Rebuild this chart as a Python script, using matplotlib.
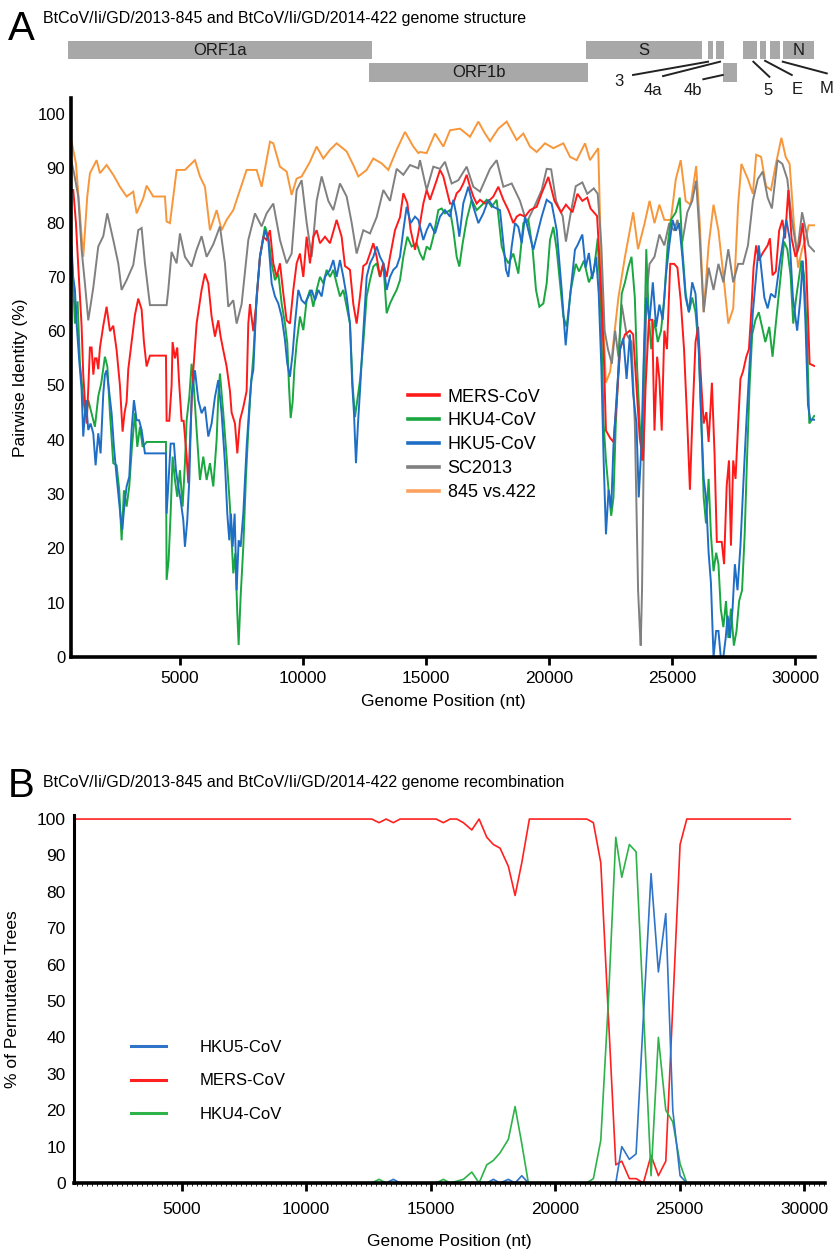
import matplotlib
matplotlib.use("Agg")
import matplotlib.pyplot as plt
from matplotlib.lines import Line2D
from matplotlib.ticker import MultipleLocator

plt.rcParams['font.family'] = ['Liberation Sans', 'DejaVu Sans']

# ---- genome structure (nt) ----
gene_names = ["ORF1a", "ORF1b", "S", "3", "4a", "4b", "5", "E", "M", "N"]
gene_start = [447, 12683, 21504, 26463, 26789, 27073, 27886, 28577, 28984, 29512]
gene_end = [12805, 21585, 26220, 26667, 27114, 27642, 28455, 28821, 29390, 30772]
gene_row = [0, 1, 0, 0, 0, 1, 0, 0, 0, 0]

# ---- panel A: pairwise identity (%) along the genome ----
mers_a = [(596, 86), (664, 86), (772, 80), (867, 72), (1003, 61), (1070, 52), (1140, 47), (1210, 43),
          (1280, 50), (1340, 57), (1409, 57), (1480, 52), (1545, 55), (1613, 55), (1680, 53), (1750, 57),
          (1883, 61), (2019, 64.5), (2155, 60), (2290, 61), (2426, 56.5), (2561, 50), (2669, 41.5),
          (2750, 45), (2832, 47), (2900, 53), (3035, 58), (3171, 63), (3306, 66), (3442, 64), (3537, 58),
          (3645, 53.5), (3780, 55.5), (4431, 55.5), (4458, 43.5), (4566, 43.5), (4661, 50), (4700, 58),
          (4797, 55), (4890, 57), (4960, 51), (5068, 43.5), (5150, 43.5), (5271, 37), (5339, 32),
          (5400, 38.7), (5515, 51), (5677, 61.4), (5880, 67.6), (6016, 70.6), (6152, 68.8), (6287, 62.7),
          (6423, 59), (6558, 62), (6653, 59), (6761, 56.5), (6897, 53.5), (7032, 49), (7100, 45),
          (7236, 43), (7331, 37.5), (7439, 43.6), (7575, 46), (7710, 49), (7778, 61.4), (7845, 65),
          (7981, 60), (8117, 65.7), (8252, 73.7), (8388, 77.4), (8523, 76.8), (8659, 78.6), (8794, 72.5),
          (8930, 70), (9065, 72.5), (9200, 67), (9336, 62), (9471, 61.4), (9607, 67.6), (9743, 72.5),
          (9878, 74.3), (10014, 70), (10149, 77.4), (10285, 72.5), (10420, 77.4), (10556, 78.6),
          (10691, 76.2), (10894, 77.4), (11098, 76.2), (11368, 80.5), (11571, 77.4), (11707, 72),
          (11910, 71.3), (12046, 65), (12181, 61.4), (12317, 66.4), (12452, 72), (12588, 72.5),
          (12724, 74.3), (12859, 76.2), (12995, 73.7), (13130, 70), (13266, 72.5), (13401, 70),
          (13537, 73.7), (13740, 78.6), (13943, 81), (14079, 85.4), (14241, 83.6), (14377, 78.6),
          (14553, 75), (14688, 78), (14891, 83.5), (15027, 86), (15162, 84.2), (15298, 86), (15434, 87.8),
          (15569, 89.7), (15705, 88.5), (15840, 86), (15976, 83.5), (16111, 83.5), (16247, 85.4),
          (16382, 86), (16518, 87.2), (16653, 88.8), (16789, 86.6), (16924, 84.8), (17060, 83.5),
          (17195, 84.2), (17398, 83.5), (17602, 84.2), (17737, 84.8), (17940, 86.6), (18144, 84.2),
          (18347, 82.3), (18550, 79.9), (18686, 81.1), (18821, 81.5), (19024, 81.1), (19227, 82.3),
          (19498, 82.9), (19702, 85.4), (19973, 88.4), (20221, 84), (20487, 81.9), (20687, 83.3),
          (20954, 81.9), (21154, 85.3), (21354, 84), (21554, 84.6), (21687, 82.6), (21954, 81.2),
          (22087, 70.3), (22220, 56.7), (22314, 41.7), (22487, 40.3), (22620, 39.6), (22754, 47.1),
          (22887, 56.7), (23087, 59.4), (23287, 60.1), (23420, 59.4), (23554, 49.9), (23687, 40.3),
          (23820, 36.2), (23926, 49.9), (24060, 62.1), (24193, 62.1), (24286, 41.7), (24393, 55.3),
          (24486, 51.2), (24580, 41.7), (24686, 60.1), (24793, 56.7), (24926, 72.4), (25086, 72.4),
          (25219, 71.7), (25353, 65.6), (25487, 56.7), (25620, 43), (25726, 30.8), (25820, 43),
          (25954, 58), (26059, 60.8), (26193, 49.9), (26286, 43), (26393, 45.1), (26486, 39.6),
          (26620, 50.5), (26726, 37.6), (26820, 21.2), (27020, 21.2), (27114, 17.1), (27220, 31.5),
          (27314, 36.2), (27394, 20.5), (27486, 36.2), (27580, 32.8), (27686, 43), (27780, 51.2),
          (27886, 52.6), (28018, 55.3), (28125, 56.7), (28218, 63.5), (28312, 71.7), (28418, 75.8),
          (28525, 73), (28685, 74.4), (28885, 75.8), (28978, 77.1), (29085, 70.3), (29218, 71),
          (29352, 78.5), (29485, 80.5), (29592, 77.1), (29725, 86), (29858, 77.1), (30018, 73.7),
          (30178, 75.8), (30312, 79.9), (30445, 73), (30592, 54), (30778, 53.6)]

hku4_a = [(596, 73.7), (650, 70), (732, 61.4), (840, 65.5), (935, 54), (1003, 51), (1070, 47.3),
          (1179, 44.2), (1274, 47.3), (1409, 44.9), (1545, 42.4), (1680, 48), (1800, 50.4), (1951, 55.3),
          (2050, 53.5), (2155, 44.9), (2290, 35.7), (2426, 35.3), (2534, 30.7), (2629, 21.5), (2724, 30.7),
          (2832, 27.7), (2940, 31.4), (3049, 38.7), (3171, 44.9), (3266, 38.7), (3374, 42.4), (3483, 38.7),
          (3645, 39.6), (4431, 39.6), (4458, 14.2), (4539, 17.8), (4621, 26.4), (4702, 36.9), (4797, 32.6),
          (4892, 29.5), (5000, 34.4), (5109, 27.7), (5203, 35.7), (5271, 43.6), (5380, 47.9), (5474, 54),
          (5560, 50), (5677, 41.8), (5813, 32.6), (5948, 36.9), (6084, 32.6), (6220, 35.7), (6355, 31.4),
          (6491, 40), (6558, 47.9), (6626, 52.2), (6760, 45), (6897, 36.9), (7032, 27.7), (7168, 15.4),
          (7249, 19.1), (7331, 8), (7385, 2.2), (7466, 11.1), (7575, 20.3), (7683, 33.2), (7778, 41.8),
          (7873, 49.2), (7981, 55.3), (8117, 66.4), (8252, 73.7), (8455, 79.3), (8591, 77.4), (8727, 72.5),
          (8862, 69.4), (8998, 70.6), (9133, 65.1), (9268, 61.4), (9363, 57.8), (9430, 50), (9500, 44),
          (9580, 47), (9650, 53), (9743, 57.8), (9878, 62.7), (10014, 60.2), (10149, 65.7), (10285, 67.6),
          (10420, 64.5), (10556, 67.6), (10691, 70), (10827, 68.8), (10962, 71.3), (11098, 70),
          (11233, 71.3), (11368, 68.8), (11504, 66.4), (11640, 67.6), (11775, 64.5), (11910, 61.4),
          (12019, 50), (12114, 44.2), (12208, 47.3), (12320, 51), (12452, 57.8), (12588, 66.4),
          (12724, 69.4), (12859, 71.9), (12995, 72.5), (13130, 70), (13266, 72.5), (13401, 63.3),
          (13537, 65.1), (13672, 66.4), (13808, 67.6), (13943, 69.4), (14079, 73.7), (14241, 77.4),
          (14417, 75.6), (14621, 76.2), (14756, 74.3), (14891, 73.1), (15027, 75.6), (15162, 75),
          (15298, 77.4), (15501, 82.3), (15637, 82.6), (15772, 81.7), (15976, 82.3), (16111, 78.6),
          (16247, 73.7), (16355, 71.9), (16490, 76.2), (16653, 80.5), (16856, 84.2), (17060, 82.3),
          (17263, 83.2), (17466, 84.2), (17669, 82.9), (17873, 84.2), (18076, 75.6), (18211, 73.7),
          (18347, 72.5), (18550, 74.3), (18753, 70.6), (18957, 79.9), (19160, 80.5), (19336, 75),
          (19471, 67.6), (19607, 64.5), (19770, 65.1), (19905, 68.8), (20040, 76.8), (20176, 79.2),
          (20312, 75), (20447, 68.8), (20583, 62.7), (20718, 60.8), (20887, 67.6), (21087, 72.4),
          (21221, 71), (21420, 73), (21620, 69), (21820, 71), (21980, 77.1), (22113, 63.5), (22220, 43),
          (22314, 36.2), (22420, 30.8), (22527, 26), (22620, 29.4), (22714, 43), (22820, 53.3),
          (22954, 66.9), (23087, 69), (23220, 71.7), (23353, 73.7), (23487, 66.2), (23580, 53.3),
          (23687, 43), (23780, 36.2), (23860, 55.3), (23953, 75.1), (24046, 63.5), (24153, 56.7),
          (24286, 62.1), (24420, 58), (24553, 60.1), (24686, 66.2), (24820, 75.8), (24953, 80.5),
          (25153, 81.9), (25313, 84.6), (25420, 75.1), (25553, 66.9), (25686, 63.5), (25820, 66.2),
          (25954, 63.5), (26086, 56.7), (26193, 43), (26286, 29.4), (26380, 24.6), (26486, 32.8),
          (26580, 22.6), (26686, 15.8), (26793, 19.2), (26886, 17.1), (26980, 8.9), (27086, 5.5),
          (27193, 10.3), (27286, 3.5), (27394, 8.9), (27513, 2.1), (27620, 4.8), (27726, 10.3),
          (27846, 12.3), (27952, 22.6), (28045, 36.2), (28152, 49.9), (28258, 59.4), (28392, 62.1),
          (28525, 63.5), (28658, 60.8), (28791, 58), (28951, 60.8), (29085, 55.3), (29218, 61.4),
          (29418, 70.3), (29552, 76.5), (29685, 75.1), (29818, 70.3), (29925, 61.4), (30045, 66.2),
          (30152, 69.6), (30258, 73), (30365, 70.3), (30485, 59.4), (30578, 43), (30778, 44.4)]

hku5_a = [(596, 75.6), (660, 70), (732, 67.6), (800, 61.4), (900, 55), (1003, 49.2), (1070, 40.6),
          (1179, 47.3), (1274, 41.8), (1368, 43), (1477, 41.2), (1572, 35.3), (1680, 41.2), (1775, 37.5),
          (1884, 48.5), (1950, 52), (2019, 52.8), (2120, 49), (2222, 44.9), (2317, 38.7), (2426, 33.2),
          (2507, 29.5), (2588, 25.8), (2656, 23.4), (2737, 27.7), (2832, 31.4), (2940, 33.2), (3035, 41.8),
          (3130, 47.3), (3239, 43.6), (3340, 43.6), (3442, 41.8), (3578, 37.5), (4431, 37.5), (4458, 26.4),
          (4539, 32.6), (4621, 39.3), (4756, 39.3), (4837, 34.4), (4932, 31.4), (5027, 28.9), (5136, 25.2),
          (5203, 20.3), (5298, 25.2), (5380, 32.6), (5474, 47.9), (5610, 52.8), (5745, 47.3), (5880, 44.9),
          (6016, 46.1), (6152, 40.6), (6287, 43), (6423, 47.9), (6558, 51), (6694, 44.9), (6829, 35.7),
          (6924, 26.4), (7005, 21.5), (7073, 26.4), (7141, 20.3), (7222, 26.4), (7304, 12.3), (7385, 21.5),
          (7466, 20.3), (7575, 26.4), (7710, 38.7), (7819, 46.1), (7900, 51), (7981, 52.8), (8117, 66.4),
          (8252, 73.7), (8455, 78.6), (8591, 76.8), (8727, 68.8), (8862, 66.4), (8998, 65.1), (9133, 62.7),
          (9268, 58.4), (9363, 54), (9471, 51.6), (9580, 55.9), (9675, 61.4), (9810, 67.6), (9946, 65.7),
          (10082, 65.1), (10217, 66.4), (10353, 67.6), (10488, 65.7), (10624, 67.6), (10759, 66.4),
          (10894, 70), (11098, 71.3), (11233, 73.1), (11368, 70), (11504, 73.1), (11640, 70), (11775, 66.4),
          (11910, 61.4), (12000, 50.4), (12073, 44.9), (12154, 35.7), (12236, 43), (12320, 49.2),
          (12425, 57.8), (12588, 70), (12724, 72.5), (12859, 73.7), (12995, 75.6), (13130, 73.7),
          (13266, 72.5), (13401, 67.6), (13537, 70), (13672, 71.3), (13808, 71.9), (13943, 73.7),
          (14079, 78.6), (14214, 82.9), (14377, 79.9), (14553, 81.1), (14688, 80.5), (14891, 76.8),
          (15027, 78.6), (15162, 79.9), (15366, 78), (15569, 81.1), (15772, 82.3), (15976, 81.1),
          (16111, 84.2), (16247, 81.1), (16355, 77.4), (16518, 83.6), (16721, 86.6), (16924, 82.9),
          (17128, 79.9), (17330, 81.7), (17534, 84.2), (17737, 82.9), (18008, 82.3), (18144, 76.2),
          (18252, 71.3), (18347, 70), (18483, 75.6), (18618, 79.9), (18753, 79.2), (18889, 76.2),
          (19024, 81.1), (19160, 78.6), (19363, 75), (19498, 77.4), (19702, 81.1), (19905, 84.2),
          (20108, 83.5), (20312, 78.6), (20515, 67.6), (20677, 57.4), (20854, 66.4), (21054, 75),
          (21154, 75.8), (21354, 77.8), (21487, 71.7), (21620, 74.4), (21754, 69.6), (21914, 73.7),
          (22020, 66.9), (22127, 53.3), (22220, 36.2), (22314, 22.6), (22420, 30.8), (22527, 27.4),
          (22620, 38.9), (22754, 48.5), (22887, 56.7), (23020, 58.7), (23153, 51.2), (23287, 59.4),
          (23420, 48.5), (23554, 43), (23647, 29.4), (23754, 38.9), (23860, 56.7), (23953, 66.2),
          (24086, 62.1), (24220, 69), (24353, 60.8), (24486, 64.9), (24620, 62.1), (24753, 70.3),
          (24886, 75.8), (25020, 80.5), (25153, 78.5), (25286, 79.9), (25420, 73.7), (25553, 66.2),
          (25686, 63.5), (25820, 69), (25954, 66.9), (26086, 56.7), (26193, 43), (26286, 32.8),
          (26380, 29.4), (26486, 19.2), (26580, 13.7), (26686, 0), (26793, 4.8), (26886, 4.8), (26980, 0),
          (27086, 0), (27180, 3.5), (27260, 7.6), (27353, 3.5), (27460, 8.9), (27553, 17.1), (27660, 12.3),
          (27780, 20.5), (27886, 30.8), (28018, 43), (28152, 54), (28285, 63.5), (28418, 70.3),
          (28525, 75.8), (28620, 71.7), (28751, 66.2), (28885, 64.2), (29018, 66.9), (29192, 66.2),
          (29352, 71.7), (29485, 75.8), (29645, 80.5), (29778, 77.1), (29911, 66.2), (30085, 60.1),
          (30218, 66.2), (30312, 73), (30418, 62.1), (30525, 46.4), (30618, 43.7), (30778, 43.7)]

sc2013_a = [(596, 91.2), (700, 89), (867, 84.8), (1003, 75), (1138, 68.8), (1274, 62), (1477, 68),
            (1680, 75.6), (1884, 77.5), (2046, 81.7), (2290, 76.8), (2493, 72.5), (2629, 67.6), (2832, 69.4),
            (3103, 72.2), (3306, 78.6), (3442, 79), (3577, 72.5), (3781, 64.8), (4458, 64.8), (4526, 67.6),
            (4661, 74.6), (4865, 72.5), (5000, 78), (5203, 73.7), (5474, 71.9), (5677, 75), (5880, 77.5),
            (6084, 73.7), (6355, 76), (6626, 79.3), (6829, 72.5), (6965, 64.5), (7168, 65.7), (7304, 61.4),
            (7507, 65), (7778, 76.8), (8049, 81.7), (8320, 79.3), (8523, 81.7), (8794, 83.5), (9065, 76.8),
            (9336, 72.5), (9539, 74.3), (9743, 86), (9946, 87.8), (10149, 80), (10352, 73.7), (10556, 84),
            (10759, 88.5), (11030, 84), (11233, 82.3), (11504, 87.2), (11775, 84.8), (11978, 80),
            (12181, 74.3), (12452, 78.6), (12724, 78), (12995, 81), (13266, 86), (13537, 84), (13808, 89.9),
            (14079, 88.8), (14350, 90.6), (14688, 90), (14756, 91.5), (15027, 86), (15298, 90.3),
            (15569, 89.9), (15772, 91.2), (16043, 87.2), (16314, 87.8), (16653, 90.3), (16924, 86.6),
            (17195, 85.7), (17602, 89.9), (17873, 91.5), (18144, 86.6), (18483, 87.2), (18821, 84),
            (19092, 80), (19431, 83.2), (19702, 86), (19905, 89.9), (20087, 89.8), (20287, 84), (20554, 81.2),
            (20687, 76.5), (20887, 81.9), (21087, 86.7), (21354, 87.4), (21554, 85.3), (21820, 86.3),
            (21980, 85.3), (22127, 75.8), (22260, 60.1), (22394, 56.7), (22554, 54), (22687, 60.1),
            (22820, 55.3), (22954, 64.9), (23153, 59.4), (23353, 58), (23487, 43), (23620, 12.3),
            (23686, 5.5), (23726, 2.1), (23780, 12.3), (23846, 36.2), (23953, 66.2), (24086, 72.4),
            (24286, 73.7), (24486, 77.8), (24686, 75.8), (24886, 79.9), (25086, 78.5), (25219, 80.5),
            (25420, 76.5), (25620, 81.9), (25820, 84), (25980, 87.7), (26126, 77.1), (26286, 63.5),
            (26486, 71.7), (26686, 67.6), (26886, 72.4), (27086, 69), (27286, 75.1), (27486, 69),
            (27686, 72.4), (27886, 72.4), (28085, 75.8), (28285, 84), (28485, 88), (28685, 89.4),
            (28885, 84.6), (29058, 82.6), (29285, 91.5), (29485, 90.8), (29685, 88), (29885, 79.9),
            (30085, 74.4), (30285, 81.9), (30445, 78.5), (30551, 75.8), (30778, 74.7)]

v845_422_a = [(596, 94.9), (772, 90.9), (1070, 73.7), (1233, 84.8), (1342, 89.1), (1613, 91.5), (1748, 89.1),
              (2019, 90.6), (2290, 88.8), (2561, 86.6), (2832, 84.8), (3103, 85.7), (3239, 81.7), (3510, 84.5),
              (3645, 86.8), (3916, 84.8), (4390, 84.8), (4458, 80.2), (4594, 79.9), (4865, 89.7), (5203, 89.7),
              (5610, 91.5), (5813, 88.5), (6016, 86.6), (6220, 78.6), (6491, 82.3), (6694, 78.6), (6897, 80.5),
              (7168, 82.3), (7439, 86), (7710, 89.7), (8117, 89.7), (8320, 86.6), (8659, 94.9), (8794, 94.6),
              (9065, 90.3), (9336, 89.4), (9539, 85.1), (9743, 88.1), (9946, 88.5), (10285, 91.2),
              (10556, 94), (10827, 91.8), (11098, 93.4), (11368, 94.6), (11775, 93.1), (12046, 90.6),
              (12249, 88.5), (12588, 89.7), (12859, 91.8), (13198, 90.9), (13469, 89.7), (13808, 93.4),
              (14146, 96.7), (14485, 94), (14688, 92.8), (14756, 93), (15027, 92.8), (15366, 96.4),
              (15705, 94), (15976, 97), (16382, 97.3), (16789, 95.8), (17128, 98.6), (17398, 96.4),
              (17602, 95), (17940, 97.3), (18279, 98.6), (18686, 95.2), (18957, 96.4), (19227, 94),
              (19498, 93), (19837, 94.6), (20176, 93.7), (20583, 94.6), (20854, 92.1), (21125, 91.5),
              (21463, 94.6), (21666, 91.5), (22000, 93.7), (22150, 67.6), (22310, 50.5), (22487, 52.6),
              (22820, 66.2), (23087, 73.7), (23420, 81.9), (23620, 75.1), (23886, 79.9), (24086, 84),
              (24286, 79.9), (24486, 83.3), (24686, 80.5), (24953, 80.5), (25153, 88), (25353, 91.5),
              (25553, 84), (25753, 83.3), (25980, 90.4), (26126, 79.9), (26286, 63.5), (26486, 75.8),
              (26686, 83.3), (26886, 78.5), (27086, 70.3), (27286, 61.4), (27486, 64.2), (27686, 83.3),
              (27820, 90.8), (28085, 88), (28285, 85.3), (28420, 92.5), (28620, 92.1), (28820, 86.7),
              (29020, 86), (29220, 90.8), (29445, 95.6), (29618, 92.1), (29778, 90.8), (29952, 79.9),
              (30125, 71.7), (30285, 75.1), (30445, 77.1), (30551, 79.5), (30778, 79.5)]

# ---- panel B: % of permutated trees ----
mers_b = [(720, 100), (12638, 100), (12932, 99), (13213, 100), (13506, 99), (13775, 100), (15221, 100),
          (15514, 99), (15783, 100), (16052, 100), (16317, 99), (16655, 97), (16948, 100), (17257, 95),
          (17522, 93), (17791, 92), (18124, 87), (18394, 79), (18663, 88), (18968, 100), (21273, 100),
          (21538, 99), (21835, 88), (22438, 5), (22679, 6), (22984, 1.2), (23253, 1.2), (23546, 0),
          (23855, 7.6), (24149, 2), (24446, 6), (25020, 93), (25289, 100), (29440, 100)]
hku4_b = [(720, 0), (12638, 0), (12932, 1), (13213, 0), (15221, 0), (15514, 1), (15783, 0), (16052, 0.5),
          (16317, 1), (16655, 3), (16948, 0), (17257, 5), (17522, 6.2), (17791, 8.3), (18124, 12),
          (18394, 21), (18663, 10.8), (18928, 0), (21273, 0), (21538, 1.2), (21835, 11.7), (22141, 50),
          (22438, 95), (22679, 84), (22984, 93), (23253, 91), (23546, 48), (23855, 2), (24149, 40),
          (24446, 20), (24727, 16.8), (25020, 5.3), (25289, 0), (29440, 0)]
hku5_b = [(720, 0), (13213, 0), (13506, 1), (13775, 0), (17257, 0), (17522, 1), (17791, 0), (18124, 1),
          (18394, 0), (18663, 2), (18928, 0), (22438, 0), (22679, 10), (22984, 6.5), (23253, 8),
          (23855, 85), (24149, 58), (24446, 74), (24727, 20), (25020, 2), (25289, 0), (29440, 0)]

xticks = [5000, 10000, 15000, 20000, 25000, 30000]
yticks = list(range(0, 101, 10))

W, H = 839, 1249
fig = plt.figure(figsize=(W / 100, H / 100), dpi=100)


def box(left, top, right, bottom):
    return [left / W, 1 - bottom / H, (right - left) / W, (bottom - top) / H]


def xy(pairs):
    return [p[0] for p in pairs], [p[1] for p in pairs]


# ---------------- panel A ----------------
xlim_a = (560, 30810)
ax = fig.add_axes(box(70.7, 97.7, 815, 657))
c_red, c_green, c_blue, c_gray, c_orange = "#ff1a1a", "#1aa640", "#1f6ec6", "#808080", "#f8963a"
for data, col in [(v845_422_a, c_orange), (sc2013_a, c_gray), (hku4_a, c_green),
                  (mers_a, c_red), (hku5_a, c_blue)]:
    x, y = xy(data)
    ax.plot(x, y, color=col, lw=1.4, solid_joinstyle="miter")
ax.set_xlim(*xlim_a)
ax.set_ylim(0, 103)
ax.set_xticks(xticks)
ax.set_yticks(yticks)
for s in ["top", "right"]:
    ax.spines[s].set_visible(False)
ax.spines["left"].set_linewidth(2.6)
ax.spines["bottom"].set_linewidth(2.6)
ax.tick_params(axis="x", length=6, width=2, labelsize=12.5, pad=4)
ax.tick_params(axis="y", length=0, labelsize=12, pad=4)
ax.set_xlabel("Genome Position (nt)", fontsize=12.5, labelpad=6)
ax.set_ylabel("Pairwise Identity (%)", fontsize=12.5, labelpad=7)

handles = [Line2D([], [], color=c, lw=2.6) for c in [c_red, c_green, c_blue, c_gray, "#fba35e"]]
ax.legend(handles, ["MERS-CoV", "HKU4-CoV", "HKU5-CoV", "SC2013", "845 vs.422"],
          loc="upper left", bbox_to_anchor=(0.453, 0.48), frameon=False, fontsize=13,
          handlelength=1.75, handletextpad=0.45, labelspacing=0.38, borderaxespad=0, borderpad=0)

# genome structure above panel A
axg = fig.add_axes(box(70.7, 36, 815, 100))
axg.set_xlim(*xlim_a)
axg.set_ylim(2.622, -0.222)
axg.axis("off")
for name, s, e, r in zip(gene_names, gene_start, gene_end, gene_row):
    axg.broken_barh([(s, e - s)], (r, 0.8), facecolors="#a8a8a8", clip_on=False)
    if name in ("ORF1a", "ORF1b", "S", "N"):
        axg.text((s + e) / 2, r + 0.42, name, ha="center", va="center", fontsize=12, color="#1a1a1a")

leaders = {"3": [(23415, 1.51), (26463, 0.92), (22858, 1.81)],
           "4a": [(24634, 1.56), (26951, 0.92), (24215, 2.18)],
           "4b": [(26272, 1.70), (27061, 1.51), (25866, 2.18)],
           "5": [(28955, 1.59), (28305, 0.92), (28915, 2.18)],
           "E": [(29866, 1.51), (28781, 0.88), (30069, 2.15)],
           "M": [(31289, 1.44), (29500, 0.92), (31289, 2.10)]}
for name, (p0, p1, lab) in leaders.items():
    axg.plot([p0[0], p1[0]], [p0[1], p1[1]], color="#222222", lw=1.4, clip_on=False)
    axg.text(lab[0], lab[1], name, ha="center", va="center", fontsize=12, color="#1a1a1a")

fig.text(8 / W, 1 - 40 / H, "A", fontsize=29, va="baseline", ha="left")
fig.text(43 / W, 1 - 18 / H, "BtCoV/Ii/GD/2013-845 and BtCoV/Ii/GD/2014-422 genome structure",
         fontsize=11.5, va="center", ha="left")

# ---------------- panel B ----------------
bx = fig.add_axes(box(74, 815.4, 825, 1183))
cb_red, cb_green, cb_blue = "#ff2020", "#2db34a", "#2f74c8"
for data, col in [(mers_b, cb_red), (hku4_b, cb_green), (hku5_b, cb_blue)]:
    x, y = xy(data)
    bx.plot(x, y, color=col, lw=1.2)
bx.set_xlim(680, 30840)
bx.set_ylim(0, 101)
bx.set_xticks(xticks)
bx.set_yticks(yticks)
bx.xaxis.set_minor_locator(MultipleLocator(200))
for s in ["top", "right"]:
    bx.spines[s].set_visible(False)
bx.spines["left"].set_linewidth(2.2)
bx.spines["bottom"].set_linewidth(2.6)
bx.tick_params(axis="x", which="major", length=6, width=2, labelsize=12.5, pad=8)
bx.tick_params(axis="x", which="minor", length=2.5, width=0.6)
bx.tick_params(axis="y", length=0, labelsize=12.5, pad=6)
bx.set_xlabel("Genome Position (nt)", fontsize=12.5, labelpad=12)
bx.set_ylabel("% of Permutated Trees", fontsize=12.5, labelpad=12)

handles_b = [Line2D([], [], color=c, lw=2.2) for c in [cb_blue, cb_red, cb_green]]
bx.legend(handles_b, ["HKU5-CoV", "MERS-CoV", "HKU4-CoV"], loc="upper left",
          bbox_to_anchor=(0.076, 0.39), frameon=False, fontsize=12,
          handlelength=2.1, handletextpad=2.0, labelspacing=1.13, borderaxespad=0, borderpad=0)

fig.text(8 / W, 1 - 797 / H, "B", fontsize=29, va="baseline", ha="left")
fig.text(43 / W, 1 - 783 / H, "BtCoV/Ii/GD/2013-845 and BtCoV/Ii/GD/2014-422 genome recombination",
         fontsize=11.5, va="center", ha="left")

fig.savefig("out.png", dpi=100)
